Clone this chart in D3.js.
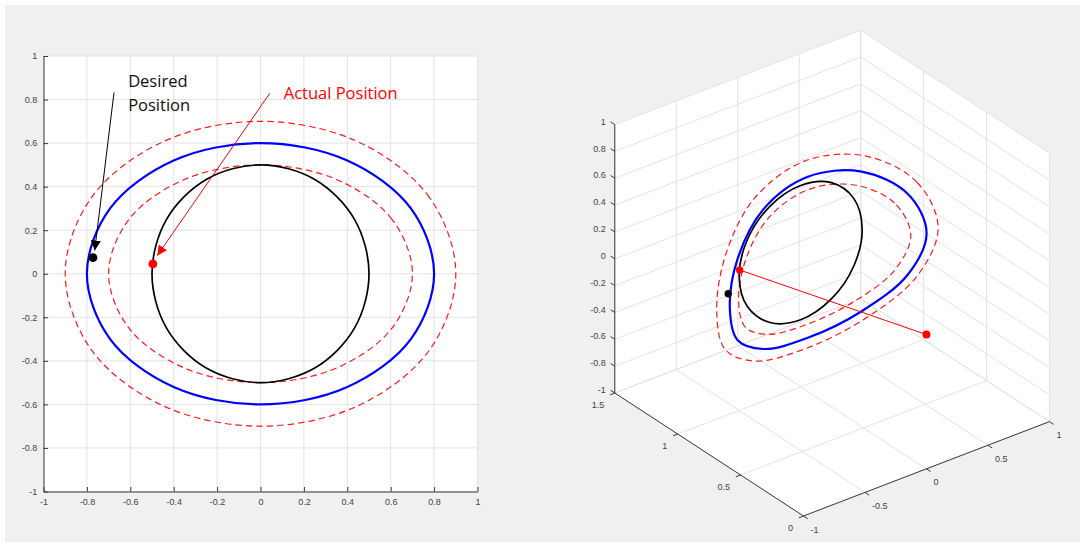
<!DOCTYPE html>
<html>
<head>
<meta charset="utf-8">
<script src="https://cdn.jsdelivr.net/npm/d3@7"></script>
<style>
  body { margin: 0; background: #fff; }
  .tk { font-family: "Liberation Sans", Arial, sans-serif; }
  .note { font-family: "Open Sans", sans-serif; }
</style>
</head>
<body>
<div id="chart"></div>
<script>
// tick values
const ticks2d = [-1, -0.8, -0.6, -0.4, -0.2, 0, 0.2, 0.4, 0.6, 0.8, 1];
const xTicks3d = [-1, -0.5, 0, 0.5, 1];
const yTicks3d = [0, 0.5, 1, 1.5];
const zTicks3d = [-1, -0.8, -0.6, -0.4, -0.2, 0, 0.2, 0.4, 0.6, 0.8, 1];

// curves: x and z are the planar shape (left plot), y is the depth in the 3d plot
const blackX = [0.5, 0.433, 0.25, 0, -0.25, -0.433, -0.5, -0.433, -0.25, 0, 0.25, 0.433];
const blackZ = [0, 0.25, 0.433, 0.5, 0.433, 0.25, 0, -0.25, -0.433, -0.5, -0.433, -0.25];
const blackY = [1, 1, 1, 1, 1, 1, 1, 1, 1, 1, 1, 1];

const blueX = [0.8, 0.693, 0.4, 0, -0.4, -0.693, -0.8, -0.693, -0.4, 0, 0.4, 0.693];
const blueZ = [0, 0.3, 0.52, 0.6, 0.52, 0.3, 0, -0.3, -0.52, -0.6, -0.52, -0.3];
const blueY = [0.781, 0.825, 0.906, 0.943, 0.906, 0.825, 0.781, 0.825, 0.906, 0.943, 0.906, 0.825];

const innerX = [0.7, 0.606, 0.35, 0, -0.35, -0.606, -0.7, -0.606, -0.35, 0, 0.35, 0.606];
const innerZ = [0, 0.25, 0.433, 0.5, 0.433, 0.25, 0, -0.25, -0.433, -0.5, -0.433, -0.25];
const innerY = [0.809, 0.846, 0.914, 0.946, 0.914, 0.846, 0.809, 0.846, 0.914, 0.946, 0.914, 0.846];

const outerX = [0.9, 0.779, 0.45, 0, -0.45, -0.779, -0.9, -0.779, -0.45, 0, 0.45, 0.779];
const outerZ = [0, 0.35, 0.606, 0.7, 0.606, 0.35, 0, -0.35, -0.606, -0.7, -0.606, -0.35];
const outerY = [0.787, 0.837, 0.928, 0.97, 0.928, 0.837, 0.787, 0.837, 0.928, 0.97, 0.928, 0.837];

// points [x, y(depth), z]
const desiredPt = [-0.772, 0.821, 0.074];
const actualPt = [-0.496, 1.0, 0.045];
const basePt = [0, 0, 0];

// annotation arrows on the left plot [x, z]
const desiredArrow = [[-0.675, 0.833], [-0.764, 0.107]];
const actualArrow = [[0.043, 0.829], [-0.476, 0.083]];
const desiredLabel = [-0.61, 0.859];
const actualLabel = [0.107, 0.801];

const W = 1080, H = 542;
const fmt = d => String(+d.toFixed(1));

const svg = d3.select('#chart').append('svg')
  .attr('width', W)
  .attr('height', H);

svg.append('rect')
  .attr('x', 5).attr('y', 5)
  .attr('width', W - 5).attr('height', H - 5)
  .attr('fill', '#f0f0f0');

const defs = svg.append('defs');
[['headBlack', '#000'], ['headRed', '#ff0000']].forEach(([id, c]) => {
  defs.append('marker')
    .attr('id', id)
    .attr('viewBox', '0 0 10 10')
    .attr('refX', 10).attr('refY', 5)
    .attr('markerUnits', 'userSpaceOnUse')
    .attr('markerWidth', 10).attr('markerHeight', 10)
    .attr('orient', 'auto')
    .append('path')
    .attr('d', 'M0,0L10,5L0,10Z')
    .attr('fill', c);
});

const shapes = [
  { xs: innerX, zs: innerZ, ys: innerY, color: '#ff1a1a', w: 1.2, dash: '6.5,4' },
  { xs: outerX, zs: outerZ, ys: outerY, color: '#ff1a1a', w: 1.2, dash: '6.5,4' },
  { xs: blueX, zs: blueZ, ys: blueY, color: '#0000ff', w: 2.2, dash: null },
  { xs: blackX, zs: blackZ, ys: blackY, color: '#000000', w: 1.7, dash: null }
];

// ---------- left: 2d plot ----------
const x2 = d3.scaleLinear().domain([-1, 1]).range([43.5, 477.5]);
const y2 = d3.scaleLinear().domain([-1, 1]).range([491.5, 56]);
const g2 = svg.append('g');

g2.append('rect')
  .attr('x', x2(-1)).attr('y', y2(1))
  .attr('width', x2(1) - x2(-1)).attr('height', y2(-1) - y2(1))
  .attr('fill', '#fff');

g2.selectAll('.vgrid').data(ticks2d).enter().append('line')
  .attr('x1', d => x2(d)).attr('x2', d => x2(d))
  .attr('y1', y2(-1)).attr('y2', y2(1))
  .attr('stroke', '#e3e3e3');
g2.selectAll('.hgrid').data(ticks2d).enter().append('line')
  .attr('y1', d => y2(d)).attr('y2', d => y2(d))
  .attr('x1', x2(-1)).attr('x2', x2(1))
  .attr('stroke', '#e3e3e3');

const xAxis = g2.append('g')
  .attr('transform', `translate(0,${y2(-1)})`)
  .call(d3.axisBottom(x2).tickValues(ticks2d).tickSize(-4.5).tickSizeOuter(0).tickPadding(7.3).tickFormat(fmt));
const yAxis = g2.append('g')
  .attr('transform', `translate(${x2(-1)},0)`)
  .call(d3.axisLeft(y2).tickValues(ticks2d).tickSize(-4.5).tickSizeOuter(0).tickPadding(6.2).tickFormat(fmt));
[xAxis, yAxis].forEach(a => {
  a.attr('font-family', null).attr('font-size', null);
  a.select('.domain').attr('stroke', '#3a3a3a');
  a.selectAll('.tick line').attr('stroke', '#3a3a3a');
  a.selectAll('.tick text').attr('class', 'tk').attr('fill', '#444').attr('font-size', 9);
});

const line2 = d3.line()
  .x(d => x2(d[0]))
  .y(d => y2(d[1]))
  .curve(d3.curveCatmullRomClosed);

shapes.forEach(s => {
  g2.append('path')
    .attr('d', line2(s.xs.map((v, i) => [v, s.zs[i]])))
    .attr('fill', 'none')
    .attr('stroke', s.color)
    .attr('stroke-width', s.w)
    .attr('stroke-dasharray', s.dash);
});

g2.append('circle').attr('cx', x2(desiredPt[0])).attr('cy', y2(desiredPt[2])).attr('r', 4.4).attr('fill', '#000');
g2.append('circle').attr('cx', x2(actualPt[0])).attr('cy', y2(actualPt[2])).attr('r', 4.4).attr('fill', '#ff0000');

[[desiredArrow, '#000', 'headBlack'], [actualArrow, '#ff0000', 'headRed']].forEach(([a, c, m]) => {
  g2.append('line')
    .attr('x1', x2(a[0][0])).attr('y1', y2(a[0][1]))
    .attr('x2', x2(a[1][0])).attr('y2', y2(a[1][1]))
    .attr('stroke', c).attr('stroke-width', 1)
    .attr('marker-end', `url(#${m})`);
});

const lbl = g2.append('text')
  .attr('class', 'note')
  .attr('x', x2(desiredLabel[0])).attr('y', y2(desiredLabel[1]))
  .attr('font-size', 16.5)
  .attr('fill', '#111');
lbl.append('tspan').text('Desired');
lbl.append('tspan').attr('x', x2(desiredLabel[0])).attr('dy', 24).text('Position');

g2.append('text')
  .attr('class', 'note')
  .attr('x', x2(actualLabel[0])).attr('y', y2(actualLabel[1]))
  .attr('font-size', 16.5)
  .attr('fill', '#ff0000')
  .text('Actual Position');

// ---------- right: 3d plot (az -37.5, el 30, orthographic) ----------
const az = -37.5 * Math.PI / 180, el = 30 * Math.PI / 180, L = 310;
const front = [803.5, 516];
const xs3 = d3.scaleLinear().domain([-1, 1]).range([0, 1]);
const ys3 = d3.scaleLinear().domain([0, 1.5]).range([0, 1]);
const zs3 = d3.scaleLinear().domain([-1, 1]).range([0, 1]);

function proj(x, y, z) {
  const u = xs3(x), v = ys3(y), w = zs3(z);
  const right = u * Math.cos(az) + v * Math.sin(az);
  const up = (-u * Math.sin(az) + v * Math.cos(az)) * Math.sin(el) + w * Math.cos(el);
  return [front[0] + L * right, front[1] - L * up];
}

const g3 = svg.append('g');

const hull = [[-1, 1.5, 1], [1, 1.5, 1], [1, 0, 1], [1, 0, -1], [-1, 0, -1], [-1, 1.5, -1]].map(p => proj(...p));
g3.append('polygon').attr('points', hull.map(p => p.join(',')).join(' ')).attr('fill', '#fff');

const gridSegs = [];
xTicks3d.forEach(x => {
  gridSegs.push([[x, 0, -1], [x, 1.5, -1]]);
  gridSegs.push([[x, 1.5, -1], [x, 1.5, 1]]);
});
yTicks3d.forEach(y => {
  gridSegs.push([[-1, y, -1], [1, y, -1]]);
  gridSegs.push([[1, y, -1], [1, y, 1]]);
});
zTicks3d.forEach(z => {
  gridSegs.push([[-1, 1.5, z], [1, 1.5, z]]);
  gridSegs.push([[1, 0, z], [1, 1.5, z]]);
});
g3.selectAll('.grid3').data(gridSegs).enter().append('line')
  .attr('x1', d => proj(...d[0])[0]).attr('y1', d => proj(...d[0])[1])
  .attr('x2', d => proj(...d[1])[0]).attr('y2', d => proj(...d[1])[1])
  .attr('stroke', '#e3e3e3');

// axis lines
const axisSegs = [
  [[-1, 1.5, -1], [-1, 1.5, 1]],
  [[-1, 0, -1], [1, 0, -1]],
  [[-1, 0, -1], [-1, 1.5, -1]]
];
g3.selectAll('.axis3').data(axisSegs).enter().append('line')
  .attr('x1', d => proj(...d[0])[0]).attr('y1', d => proj(...d[0])[1])
  .attr('x2', d => proj(...d[1])[0]).attr('y2', d => proj(...d[1])[1])
  .attr('stroke', '#3a3a3a');

function unit(a, b) {
  const dx = b[0] - a[0], dy = b[1] - a[1], n = Math.hypot(dx, dy);
  return [dx / n, dy / n];
}
const dirY = unit(proj(-1, 0, -1), proj(-1, 1.5, -1));
const dirX = unit(proj(-1, 0, -1), proj(1, 0, -1));
const tickLen = 5;

function ticks3(values, at, dir, dx, dy, anchor) {
  values.forEach(v => {
    const p = at(v);
    g3.append('line')
      .attr('x1', p[0]).attr('y1', p[1])
      .attr('x2', p[0] + dir[0] * tickLen).attr('y2', p[1] + dir[1] * tickLen)
      .attr('stroke', '#3a3a3a');
    g3.append('text')
      .attr('class', 'tk')
      .attr('x', p[0] + dx).attr('y', p[1] + dy)
      .attr('dy', '0.35em')
      .attr('text-anchor', anchor)
      .attr('font-size', 9).attr('fill', '#444')
      .text(fmt(v));
  });
}
ticks3(zTicks3d, z => proj(-1, 1.5, z), dirY, -9, -3, 'end');
ticks3(xTicks3d, x => proj(x, 0, -1), [-dirY[0], -dirY[1]], 7, 13.5, 'start');
ticks3(yTicks3d, y => proj(-1, y, -1), [-dirX[0], -dirX[1]], -10.5, 11.5, 'end');

const line3 = d3.line().curve(d3.curveCatmullRomClosed);
shapes.forEach(s => {
  g3.append('path')
    .attr('d', line3(s.xs.map((v, i) => proj(v, s.ys[i], s.zs[i]))))
    .attr('fill', 'none')
    .attr('stroke', s.color)
    .attr('stroke-width', s.w)
    .attr('stroke-dasharray', s.dash);
});

const pa = proj(...actualPt), pb = proj(...basePt), pd = proj(...desiredPt);
g3.append('line')
  .attr('x1', pa[0]).attr('y1', pa[1]).attr('x2', pb[0]).attr('y2', pb[1])
  .attr('stroke', '#ff0000').attr('stroke-width', 1);
g3.append('circle').attr('cx', pd[0]).attr('cy', pd[1]).attr('r', 3.7).attr('fill', '#000');
g3.append('circle').attr('cx', pa[0]).attr('cy', pa[1]).attr('r', 3.7).attr('fill', '#ff0000');
g3.append('circle').attr('cx', pb[0]).attr('cy', pb[1]).attr('r', 4).attr('fill', '#ff0000');
</script>
</body>
</html>
